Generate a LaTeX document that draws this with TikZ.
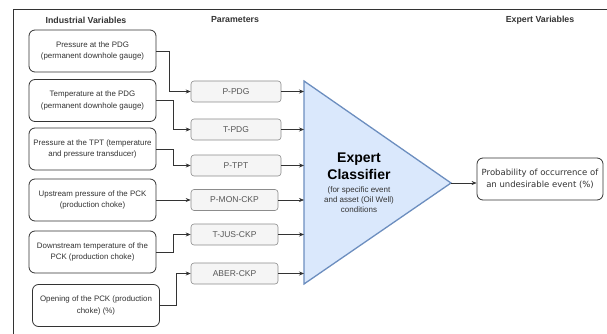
\documentclass[tikz,border=0pt]{standalone}
\usepackage{fontspec}
\setmainfont{Liberation Sans}
\newfontfamily\outfont{DejaVu Sans}
\usetikzlibrary{arrows.meta}
\definecolor{inkdark}{HTML}{333333}
\definecolor{paramfill}{HTML}{F5F5F5}
\definecolor{paramline}{HTML}{8C8C8C}
\definecolor{paramtext}{HTML}{555555}
\definecolor{clsfill}{HTML}{DAE8FC}
\definecolor{clsline}{HTML}{6C8EBF}
\tikzset{
  header/.style={font=\fontsize{8.8}{10}\selectfont\bfseries, text=inkdark, inner sep=0pt},
  varbox/.style={draw=inkdark, line width=0.8pt, rounded corners=6pt, fill=white,
    minimum width=127pt, minimum height=42pt, inner sep=0pt, align=center,
    text=inkdark, font=\fontsize{7.9}{11.5}\selectfont},
  parbox/.style={draw=paramline, line width=0.6pt, rounded corners=3pt, fill=paramfill,
    minimum height=21pt, inner sep=0pt, align=center, text=paramtext,
    font=\fontsize{8.5}{10}\selectfont},
  outbox/.style={draw=inkdark, line width=0.8pt, rounded corners=6pt, fill=white,
    minimum width=126pt, minimum height=42pt, inner sep=0pt, align=center,
    text=inkdark, font=\outfont\fontsize{8.5}{11.5}\selectfont},
  arr/.style={draw=inkdark, line width=0.6pt, -{Stealth[length=5pt,width=4pt]}},
}
\begin{document}
\begin{tikzpicture}[x=1pt, y=-1pt]
\useasboundingbox (0,0) rectangle (607,334);

% outer frame (right and bottom edges run off the page)
\draw[inkdark, line width=0.9pt] (13,334) -- (13,9.5) -- (607,9.5);

% column headers
\node[header] (h1) at (86,20) {Industrial Variables};
\node[header] (h2) at (235,20) {Parameters};
\node[header] (h3) at (540,20) {Expert Variables};

% industrial variables
\node[varbox] (b1) at (92.5,51) {Pressure at the PDG\\(permanent downhole gauge)};
\node[varbox] (b2) at (92.5,100.5) {Temperature at the PDG\\(permanent downhole gauge)};
\node[varbox] (b3) at (92.5,149) {Pressure at the TPT (temperature\\and pressure transducer)};
\node[varbox] (b4) at (92.5,200) {Upstream pressure of the PCK\\(production choke)};
\node[varbox] (b5) at (92.5,252) {Downstream temperature of the\\PCK (production choke)};
\node[varbox] (b6) at (96,305.5) {Opening of the PCK (production\\choke) (\%)};

% parameters
\node[parbox, minimum width=90pt] (p1) at (236,91.5) {P-PDG};
\node[parbox, minimum width=90pt] (p2) at (236,129.5) {T-PDG};
\node[parbox, minimum width=90pt] (p3) at (236,165.5) {P-TPT};
\node[parbox, minimum width=87pt] (p4) at (234.5,200) {P-MON-CKP};
\node[parbox, minimum width=87pt] (p5) at (234.5,234.5) {T-JUS-CKP};
\node[parbox, minimum width=87pt] (p6) at (234.5,273.5) {ABER-CKP};

% expert classifier triangle
\coordinate (ttop) at (304,81);
\coordinate (tbot) at (304,284);
\coordinate (tapex) at (451,183);
\draw[clsline, fill=clsfill, line width=1.3pt, line join=miter] (ttop) -- (tapex) -- (tbot) -- cycle;
\node[inner sep=0pt, align=center, text=black, font=\fontsize{14}{17}\selectfont\bfseries] (cls) at (359,166) {Expert\\Classifier};
\node[inner sep=0pt, align=center, text=inkdark, font=\fontsize{8}{10}\selectfont] (clsnote) at (359,199.5) {(for specific event\\and asset (Oil Well)\\conditions};

% expert variable
\node[outbox] (o1) at (540,179) {Probability of occurrence of\\an undesirable event (\%)};

% industrial variables to parameters
\draw[arr] (b1.east) -- ++(13,0) |- (p1.west);
\draw[arr] (b2.east) -- ++(17,0) |- (p2.west);
\draw[arr] (b3.east) -- ++(17,0) |- (p3.west);
\draw[arr] (b4.east) -- (b4.east -| p4.west);
\draw[arr] (b5.east) -- ++(17,0) |- (p5.west);
\draw[arr] (b6.east) -- ++(16,0) |- (p6.west);

% parameters to classifier
\foreach \p in {p1,p2,p3,p4,p5,p6}
  \draw[arr] (\p.east) -- (\p.east -| ttop);

% classifier to output
\draw[arr] (tapex) -- (tapex -| o1.west);
\end{tikzpicture}
\end{document}
